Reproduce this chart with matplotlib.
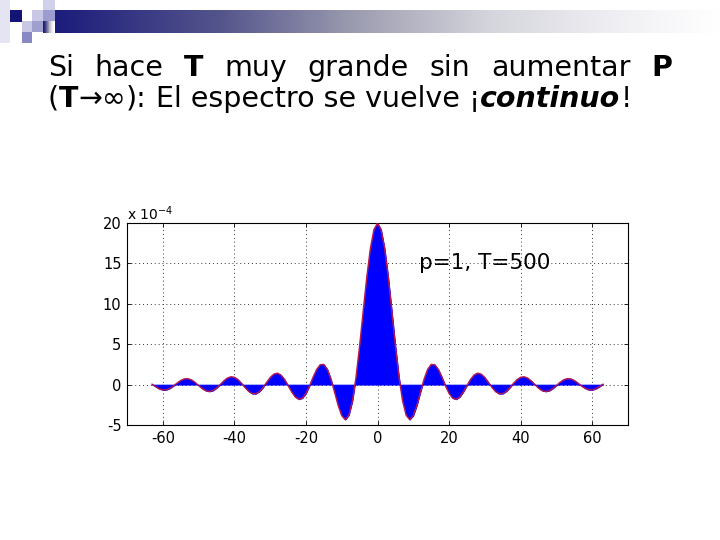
import matplotlib
matplotlib.use("Agg")
import matplotlib.pyplot as plt
import numpy as np
from matplotlib.patches import Rectangle
from matplotlib.colors import LinearSegmentedColormap

plt.rcParams['font.family'] = ['DejaVu Sans']
plt.rcParams['mathtext.fontset'] = 'dejavusans'

# ---- data (values in units of 1e-4) ----
freq = list(range(-63, 64))
spectrum = [
    0.05, -0.26, -0.52, -0.66, -0.64, -0.46, -0.16, 0.19, 0.51, 0.71, 0.74, 0.59,
    0.28, -0.11, -0.48, -0.75, -0.85, -0.74, -0.43, -0.01, 0.44, 0.80, 0.97, 0.91,
    0.62, 0.16, -0.37, -0.83, -1.12, -1.13, -0.86, -0.36, 0.27, 0.87, 1.29, 1.42,
    1.19, 0.65, -0.11, -0.89, -1.52, -1.82, -1.68, -1.09, -0.16, 0.92, 1.88, 2.47,
    2.50, 1.88, 0.66, -0.93, -2.57, -3.84, -4.34, -3.78, -2.00, 0.94, 4.79, 9.09,
    13.30, 16.83, 19.18,
    20.00,
    19.18, 16.83, 13.30, 9.09, 4.79, 0.94, -2.00, -3.78, -4.34, -3.84, -2.57, -0.93,
    0.66, 1.88, 2.50, 2.47, 1.88, 0.92, -0.16, -1.09, -1.68, -1.82, -1.52, -0.89,
    -0.11, 0.65, 1.19, 1.42, 1.29, 0.87, 0.27, -0.36, -0.86, -1.13, -1.12, -0.83,
    -0.37, 0.16, 0.62, 0.91, 0.97, 0.80, 0.44, -0.01, -0.43, -0.74, -0.85, -0.75,
    -0.48, -0.11, 0.28, 0.59, 0.74, 0.71, 0.51, 0.19, -0.16, -0.46, -0.64, -0.66,
    -0.52, -0.26, 0.05,
]
xticks = [-60, -40, -20, 0, 20, 40, 60]
yticks = [-5, 0, 5, 10, 15, 20]
annotation = "p=1, T=500"
scale_label = "x 10$^{-4}$"

line1 = [("Si", "normal"), ("hace", "normal"), ("T", "bold"), ("muy", "normal"),
         ("grande", "normal"), ("sin", "normal"), ("aumentar", "normal"), ("P", "bold")]
line2 = [("(", "normal", "normal"), ("T", "bold", "normal"), ("\u2192\u221e", "normal", "normal"),
         ("):", "normal", "normal"), (" El espectro se vuelve ", "normal", "normal"),
         ("\u00a1", "normal", "normal"), ("continuo", "bold", "italic"), ("!", "normal", "normal")]

fig = plt.figure(figsize=(7.2, 5.4), dpi=100)
fig.patch.set_facecolor("white")

# ---- background / decoration axes in pixel coords ----
bg = fig.add_axes([0, 0, 1, 1])
bg.set_xlim(0, 720)
bg.set_ylim(540, 0)
bg.axis("off")

grad = LinearSegmentedColormap.from_list(
    "g", [(0, "#1c1c7c"), (0.25, "#55558c"), (0.45, "#9c9cb0"), (0.65, "#d4d4dc"),
          (0.85, "#f0f0f4"), (1, "#ffffff")])
bg.imshow(np.linspace(0, 1, 256)[None, :], cmap=grad, aspect="auto",
          extent=(55, 720, 33, 10), zorder=1)
bg.imshow(np.linspace(0, 0.02, 8)[None, :], cmap=grad, aspect="auto",
          extent=(43, 55, 33, 21), zorder=1)
squares = [
    (0, 0, 10, 43, "#e4e4f2"),
    (10, 10, 12, 12, "#141478"),
    (32, 10, 11, 11, "#c8c8e4"),
    (43, 0, 12, 10, "#d0d0ea"),
    (43, 10, 12, 11, "#9c9cd0"),
    (22, 21, 10, 11, "#c8c8e4"),
    (32, 21, 11, 11, "#a0a0d0"),
    (22, 32, 10, 11, "#8888c4"),
]
for (x0, y0, w, h, c) in squares:
    bg.add_patch(Rectangle((x0, y0), w, h, facecolor=c, edgecolor="none", zorder=2))

renderer = fig.canvas.get_renderer()

def width_of(t):
    return t.get_window_extent(renderer).width

def space_width(fs):
    a = bg.text(0, -100, "n n", fontsize=fs)
    b = bg.text(0, -100, "nn", fontsize=fs)
    w = width_of(a) - width_of(b)
    a.remove(); b.remove()
    return w

def layout_line2(fs):
    sw = space_width(fs)
    x = 48
    made = []
    for piece, wt, st in line2:
        lead = len(piece) - len(piece.lstrip(" "))
        trail = len(piece) - len(piece.rstrip(" "))
        core = piece.strip(" ")
        x += lead * sw
        t = bg.text(x, 107, core, fontsize=fs, fontweight=wt, fontstyle=st,
                    ha="left", va="baseline", color="black")
        made.append(t)
        x += width_of(t) + trail * sw
    return x, made

# fit second line so that it ends where the reference does
end0, tmp = layout_line2(20)
for t in tmp:
    t.remove()
FS = 20 * (632 - 48) / (end0 - 48)
layout_line2(FS)

# line 1: justified between 48 and 672
texts = []
for word, wt in line1:
    t = bg.text(0, 76, word, fontsize=FS, fontweight=wt, ha="left", va="baseline", color="black")
    texts.append(t)
widths = [width_of(t) for t in texts]
gap = (672 - 48 - sum(widths)) / (len(texts) - 1)
x = 48
for t, w in zip(texts, widths):
    t.set_x(x)
    x += w + gap

# ---- chart axes ----
ax = fig.add_axes([127 / 720, 1 - 425 / 540, (628 - 127) / 720, (425 - 223) / 540])
ax.fill_between(freq, spectrum, 0, facecolor="#0000ff", edgecolor="#0000ff",
                linewidth=0.6, zorder=2)
ax.plot(freq, spectrum, color="#b8184a", lw=1.0, zorder=3)
ax.set_xlim(-70, 70)
ax.set_ylim(-5, 20)
ax.set_xticks(xticks)
ax.set_yticks(yticks)
ax.set_xticklabels([str(v) for v in xticks])
ax.set_yticklabels([str(v) for v in yticks])
ax.grid(True, linestyle=(0, (1, 3)), color="#333333", lw=0.7, zorder=1)
ax.set_axisbelow(True)
ax.tick_params(direction="in", length=3, width=0.6, labelsize=10.5, pad=4,
               top=True, right=True, colors="black")
for s in ax.spines.values():
    s.set_linewidth(0.8)
    s.set_color("black")
ax.text(0.0, 1.0, scale_label, transform=ax.transAxes, fontsize=10,
        ha="left", va="bottom")
ax.text(11.7, 15.1, annotation, fontsize=15.5, ha="left", va="center", color="black")

fig.savefig("out.png", dpi=100)
